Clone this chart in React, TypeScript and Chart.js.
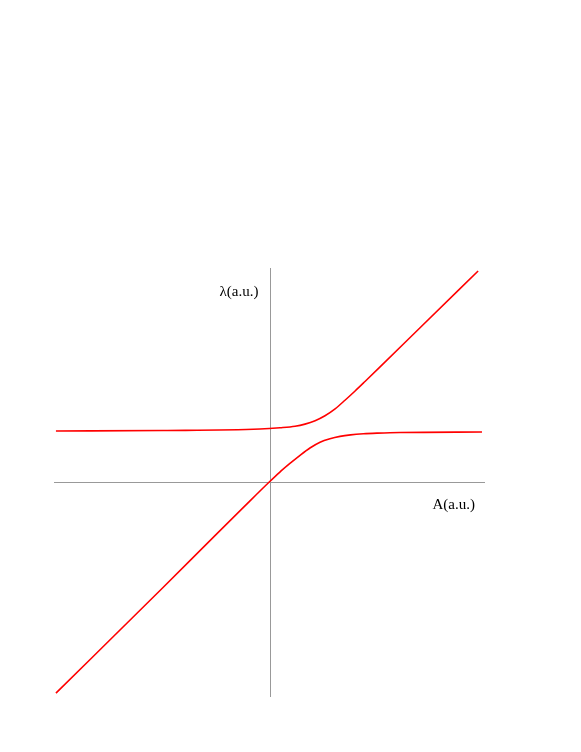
import React, { useEffect, useRef } from "react";
import { Chart, registerables } from "chart.js";

Chart.register(...registerables);

// Lower eigenvalue branch (A, λ)
const lowerA = [-9.93, -4.95, -2.5, -1.2, 0, 0.47, 0.95, 1.42, 1.88, 2.35, 2.81, 3.28, 3.77, 4.37, 5.02, 6.07, 9.88];
const lowerL = [-9.83, -4.92, -2.47, -1.18, 0, 0.44, 0.85, 1.23, 1.57, 1.84, 2.0, 2.11, 2.18, 2.23, 2.26, 2.29, 2.31];

// Upper eigenvalue branch (A, λ)
const upperA = [-9.93, -4.95, -0.44, 0.49, 1.19, 1.65, 2.12, 2.58, 3.05, 3.51, 3.98, 4.44, 5.14, 7.0, 9.7];
const upperL = [2.36, 2.38, 2.45, 2.51, 2.58, 2.68, 2.84, 3.07, 3.39, 3.79, 4.22, 4.66, 5.34, 7.16, 9.8];

const xLabel = "A(a.u.)";
const yLabel = "λ(a.u.)";

const axesPlugin = {
  id: "centerAxes",
  beforeDatasetsDraw(chart: any) {
    const { ctx, chartArea, scales } = chart;
    const x0 = Math.round(scales.x.getPixelForValue(0)) + 0.5;
    const y0 = Math.round(scales.y.getPixelForValue(0)) + 0.5;
    ctx.save();
    ctx.strokeStyle = "#999999";
    ctx.lineWidth = 1;
    ctx.beginPath();
    ctx.moveTo(chartArea.left, y0);
    ctx.lineTo(chartArea.right, y0);
    ctx.moveTo(x0, chartArea.top);
    ctx.lineTo(x0, chartArea.bottom);
    ctx.stroke();
    ctx.fillStyle = "#000000";
    ctx.font = '15px "Liberation Serif", serif';
    ctx.textBaseline = "middle";
    ctx.textAlign = "right";
    ctx.fillText(yLabel, x0 - 12, chartArea.top + 24);
    ctx.fillText(xLabel, chartArea.right - 10, y0 + 23);
    ctx.restore();
  },
};

export default function App() {
  const ref = useRef<HTMLCanvasElement | null>(null);
  useEffect(() => {
    if (!ref.current) return;
    const chart = new Chart(ref.current, {
      type: "line",
      data: {
        datasets: [
          {
            data: lowerA.map((a, i) => ({ x: a, y: lowerL[i] })),
            borderColor: "#ff0000",
            borderWidth: 1.6,
            pointRadius: 0,
            cubicInterpolationMode: "monotone",
            fill: false,
          },
          {
            data: upperA.map((a, i) => ({ x: a, y: upperL[i] })),
            borderColor: "#ff0000",
            borderWidth: 1.6,
            pointRadius: 0,
            cubicInterpolationMode: "monotone",
            fill: false,
          },
        ],
      },
      options: {
        responsive: false,
        animation: false,
        layout: { padding: { left: 54, right: 96, top: 268, bottom: 55 } },
        plugins: { legend: { display: false }, tooltip: { enabled: false } },
        scales: {
          x: { type: "linear", min: -10.02, max: 10.02, display: false },
          y: { type: "linear", min: -10.01, max: 9.94, display: false },
        },
      },
      plugins: [axesPlugin],
    });
    return () => chart.destroy();
  }, []);
  return (
    <div style={{ position: "fixed", left: 0, top: 0, width: 581, height: 752, background: "#fff" }}>
      <canvas ref={ref} width={581} height={752} style={{ width: 581, height: 752 }} />
    </div>
  );
}
